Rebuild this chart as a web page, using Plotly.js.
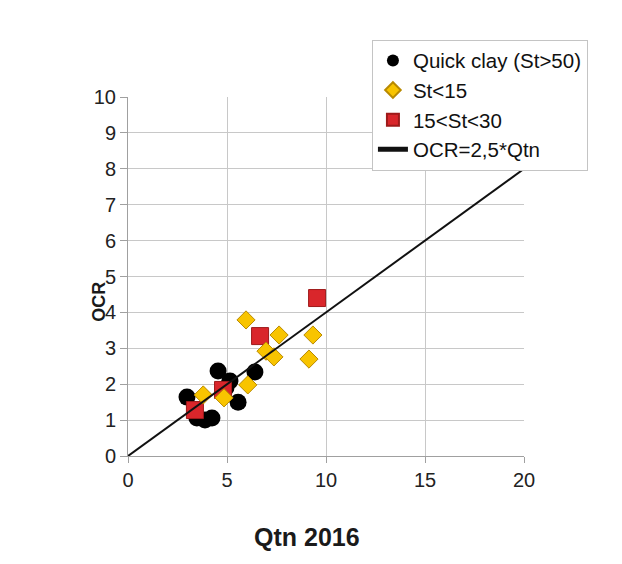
<!DOCTYPE html>
<html>
<head>
<meta charset="utf-8">
<script src="https://cdn.plot.ly/plotly-3.0.1.min.js"></script>
<style>
html,body{margin:0;padding:0;background:#fff;}
#chart{width:622px;height:564px;}
</style>
</head>
<body>
<div id="chart"></div>
<script>
// Quick clay (St>50)
var quickX = [2.98, 3.48, 3.89, 4.24, 4.55, 4.95, 5.15, 5.56, 6.41];
var quickY = [1.64, 1.06, 1.00, 1.06, 2.37, 1.90, 2.09, 1.50, 2.34];
// St<15
var lowX = [3.80, 4.85, 6.05, 5.96, 6.97, 7.37, 7.63, 9.34, 9.14];
var lowY = [1.70, 1.62, 1.98, 3.79, 2.92, 2.76, 3.37, 3.37, 2.70];
// 15<St<30
var midX = [3.38, 4.80, 6.67, 9.55];
var midY = [1.28, 1.84, 3.34, 4.40];
// OCR line
var lineX = [0, 20];
var lineY = [0, 8];
var xTicks = [0, 5, 10, 15, 20];
var yTicks = [0, 1, 2, 3, 4, 5, 6, 7, 8, 9, 10];

var FONT = 'Liberation Sans, Arial, sans-serif';

var traces = [
  {x: quickX, y: quickY, type: 'scatter', mode: 'markers', name: 'Quick clay (St>50)',
   legendrank: 1, legendgroup: 'a',
   marker: {symbol: 'circle', size: 17, color: '#000000', line: {width: 0}}},
  {x: midX, y: midY, type: 'scatter', mode: 'markers', name: '15<St<30',
   legendrank: 3, legendgroup: 'c',
   marker: {symbol: 'square', size: 17, color: '#d9262b', line: {width: 1, color: '#9e1a1a'}}},
  {x: lowX, y: lowY, type: 'scatter', mode: 'markers', name: 'St<15',
   legendrank: 2, legendgroup: 'b',
   marker: {symbol: 'diamond', size: 14, color: '#f8c400', line: {width: 1, color: '#b98a00'}}},
  {x: lineX, y: lineY, type: 'scatter', mode: 'lines', name: 'OCR=2,5*Qtn',
   legendrank: 4, legendgroup: 'd',
   line: {color: '#111111', width: 2}}
];

var layout = {
  width: 622, height: 564,
  margin: {l: 128, r: 98, t: 97, b: 108},
  paper_bgcolor: '#ffffff', plot_bgcolor: '#ffffff',
  font: {family: FONT, color: '#222', size: 20},
  showlegend: true,
  legend: {
    x: 0.616, y: 1.16, xanchor: 'left', yanchor: 'top',
    bgcolor: '#ffffff', bordercolor: '#c4c4c4', borderwidth: 1,
    font: {family: FONT, size: 20.5, color: '#111'},
    itemsizing: 'constant', tracegroupgap: 6, traceorder: 'normal',
    itemwidth: 30
  },
  xaxis: {
    range: [0, 20], tickvals: xTicks, ticktext: xTicks.map(String),
    showgrid: true, gridcolor: '#c8c8c8', gridwidth: 1,
    zeroline: false, showline: true, linecolor: '#a0a0a0', linewidth: 1,
    ticks: 'outside', ticklen: 6, tickcolor: '#a0a0a0',
    tickfont: {family: FONT, size: 20, color: '#222'}, fixedrange: true
  },
  yaxis: {
    range: [0, 10], tickvals: yTicks, ticktext: yTicks.map(String),
    showgrid: true, gridcolor: '#c8c8c8', gridwidth: 1,
    zeroline: false, showline: true, linecolor: '#a0a0a0', linewidth: 1,
    ticks: 'outside', ticklen: 7, tickcolor: '#a0a0a0',
    tickfont: {family: FONT, size: 20, color: '#222'}, fixedrange: true
  },
  annotations: [
    {text: '<b>Qtn 2016</b>', xref: 'paper', yref: 'paper', x: 0.452, y: -0.225,
     xanchor: 'center', yanchor: 'middle', showarrow: false,
     font: {family: FONT, size: 25, color: '#1a1a1a'}},
    {text: '<b>OCR</b>', xref: 'paper', yref: 'paper', x: -0.073, y: 0.43,
     xanchor: 'center', yanchor: 'middle', showarrow: false, textangle: -90,
     font: {family: FONT, size: 18, color: '#1a1a1a'}}
  ]
};

Plotly.newPlot('chart', traces, layout, {displayModeBar: false, staticPlot: true});
</script>
</body>
</html>
